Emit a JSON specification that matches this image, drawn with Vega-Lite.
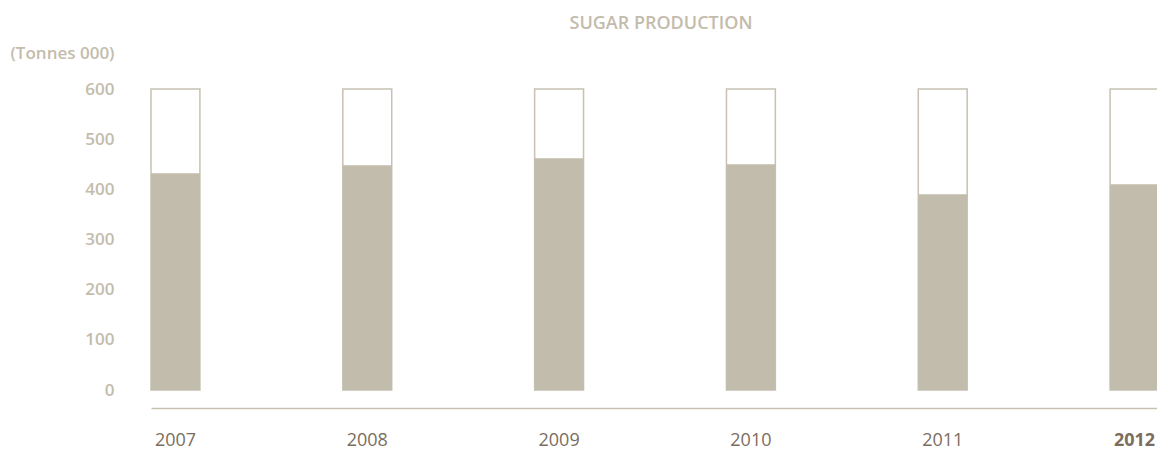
{
  "$schema": "https://vega.github.io/schema/vega-lite/v6.json",
  "width": 1008,
  "height": 301,
  "autosize": {"type": "none"},
  "padding": {"left": 151, "top": 89, "right": 0, "bottom": 60},
  "background": "white",
  "config": {
    "view": {"stroke": null},
    "font": "Open Sans"
  },
  "title": {
    "text": "SUGAR PRODUCTION",
    "anchor": "middle",
    "frame": "group",
    "color": "#c3bcac",
    "fontSize": 18,
    "fontWeight": 600,
    "font": "Open Sans",
    "dx": 6,
    "offset": -3,
    "baseline": "alphabetic"
  },
  "data": {
    "values": [
      {"year": "2007", "production": 432, "capacity": 600},
      {"year": "2008", "production": 448, "capacity": 600},
      {"year": "2009", "production": 462, "capacity": 600},
      {"year": "2010", "production": 450, "capacity": 600},
      {"year": "2011", "production": 390, "capacity": 600},
      {"year": "2012", "production": 410, "capacity": 600}
    ]
  },
  "encoding": {
    "x": {
      "field": "year",
      "type": "nominal",
      "scale": {"paddingInner": 0.745, "paddingOuter": 0},
      "axis": {
        "title": null,
        "orient": "bottom",
        "offset": 18,
        "ticks": false,
        "domainColor": "#c8c1b2",
        "domainWidth": 1.5,
        "labelAngle": 0,
        "labelPadding": 23,
        "labelBaseline": "top",
        "labelFontSize": 18,
        "labelColor": "#7b6d5e",
        "labelFont": "Open Sans",
        "labelFontWeight": {"condition": {"test": "datum.value == '2012'", "value": "bold"}, "value": "normal"}
      }
    }
  },
  "layer": [
    {
      "mark": {"type": "bar", "fill": "white", "stroke": "#c8c1b2", "strokeWidth": 1.5},
      "encoding": {
        "y": {
          "field": "capacity",
          "type": "quantitative",
          "scale": {"domain": [0, 600], "nice": false},
          "axis": {
            "title": "(Tonnes 000)",
            "titleAngle": 0,
            "titleAlign": "right",
            "titleBaseline": "middle",
            "titleX": -37,
            "titleY": -36,
            "titleFontSize": 17,
            "titleFontWeight": 600,
            "titleColor": "#c3bcac",
            "titleFont": "Open Sans",
            "values": [0, 100, 200, 300, 400, 500, 600],
            "grid": false,
            "ticks": false,
            "domain": false,
            "labelPadding": 37,
            "labelFontSize": 17,
            "labelFontWeight": 600,
            "labelColor": "#c3bcac",
            "labelFont": "Open Sans"
          }
        }
      }
    },
    {
      "mark": {"type": "bar", "fill": "#c2bcad"},
      "encoding": {
        "y": {"field": "production", "type": "quantitative"}
      }
    }
  ]
}
